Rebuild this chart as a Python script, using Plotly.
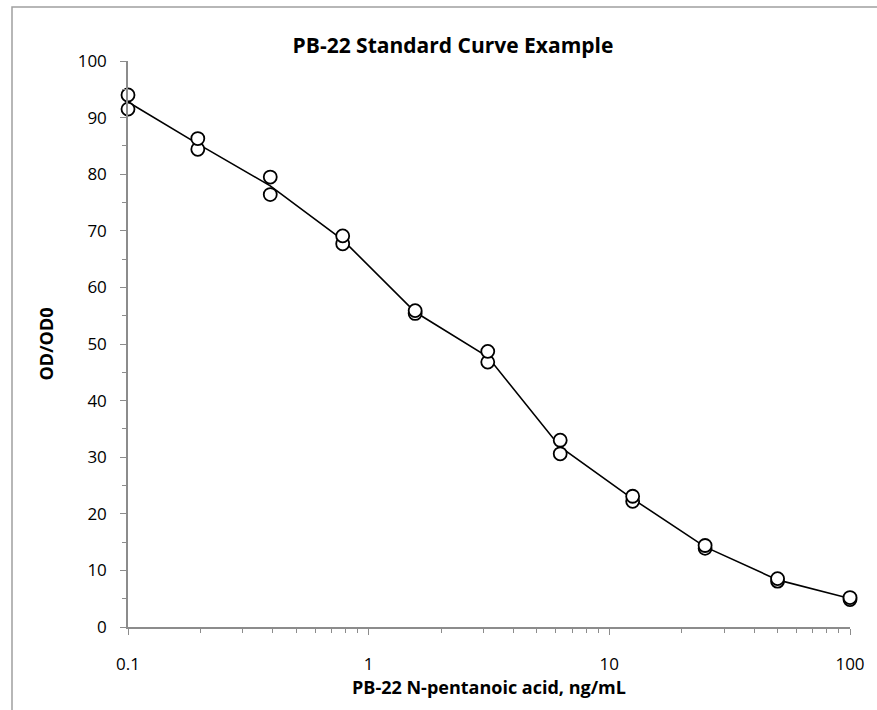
import plotly.graph_objects as go

concentration = [0.1, 0.195, 0.39, 0.78, 1.56, 3.125, 6.25, 12.5, 25, 50, 100]
rep1 = [94.0, 86.3, 79.5, 69.1, 55.9, 48.7, 33.0, 23.1, 14.4, 8.55, 5.2]
rep2 = [91.5, 84.4, 76.4, 67.7, 55.4, 46.8, 30.6, 22.2, 13.9, 8.1, 4.85]
mean_vals = [(a + b) / 2 for a, b in zip(rep1, rep2)]

title_text = "PB-22 Standard Curve Example"
x_title = "PB-22 N-pentanoic acid, ng/mL"
y_title = "OD/OD0"
x_tickvals = [0.1, 1, 10, 100]
x_ticktext = ["0.1", "1", "10", "100"]
x_minor_vals = [m * d for d in (0.1, 1, 10) for m in range(2, 10)]

W, H = 877, 710
L, R, T, B = 128, 27, 61, 83
pw, ph = W - L - R, H - T - B

font_family = "Open Sans, Noto Sans, sans-serif"
axis_color = "#8c8c8c"

fig = go.Figure()
fig.add_trace(go.Scatter(
    x=concentration, y=mean_vals, mode="lines",
    line=dict(color="black", width=1.6), cliponaxis=False,
    hoverinfo="skip", showlegend=False))
for reps in (rep2, rep1):
    fig.add_trace(go.Scatter(
        x=concentration, y=reps, mode="markers",
        marker=dict(symbol="circle", size=13, color="white",
                    line=dict(color="black", width=1.8)),
        cliponaxis=False, showlegend=False))

def px_to_paper_x(px):
    return (px - L) / pw

def px_to_paper_y(py):
    return (H - B - py) / ph

fig.add_shape(type="rect", xref="paper", yref="paper",
              x0=px_to_paper_x(12), x1=px_to_paper_x(W + 20),
              y0=px_to_paper_y(H + 20), y1=px_to_paper_y(7),
              line=dict(color="#a0a0a0", width=1.5), fillcolor="rgba(0,0,0,0)",
              layer="below")

fig.update_layout(
    width=W, height=H,
    margin=dict(l=L, r=R, t=T, b=B, autoexpand=False),
    paper_bgcolor="white", plot_bgcolor="white",
    font=dict(family=font_family, color="black", size=17),
    title=dict(text="<b>" + title_text + "</b>", x=px_to_paper_x(453), xref="paper",
               xanchor="center", y=1 - 46 / H, yanchor="middle",
               font=dict(size=21, family=font_family, color="black")),
    xaxis=dict(type="log", range=[-1, 2], tickvals=x_tickvals, ticktext=x_ticktext,
               showgrid=False, zeroline=False, showline=True, linecolor=axis_color,
               linewidth=1.5, ticks="outside", ticklen=6, tickwidth=1.3, tickcolor=axis_color,
               ticklabelstandoff=15,
               minor=dict(tickmode="array", tickvals=x_minor_vals, ticks="outside",
                          ticklen=4, tickwidth=1.2, tickcolor=axis_color, showgrid=False),
               tickfont=dict(size=17),
               title=dict(text="<b>" + x_title + "</b>", font=dict(size=18), standoff=7)),
    yaxis=dict(range=[0, 100], dtick=10, showgrid=False, zeroline=False, showline=True,
               linecolor=axis_color, linewidth=1.5, ticks="outside", ticklen=6,
               tickwidth=1.3, tickcolor=axis_color, ticklabelstandoff=10,
               minor=dict(ticks="outside", ticklen=4, dtick=5, tickwidth=1.2,
                          tickcolor=axis_color, showgrid=False),
               tickfont=dict(size=17),
               title=dict(text="<b>" + y_title + "</b>", font=dict(size=18), standoff=19)),
)

fig.write_html("out.html", config={"displayModeBar": False},
               post_script="document.body.style.margin='0';")
